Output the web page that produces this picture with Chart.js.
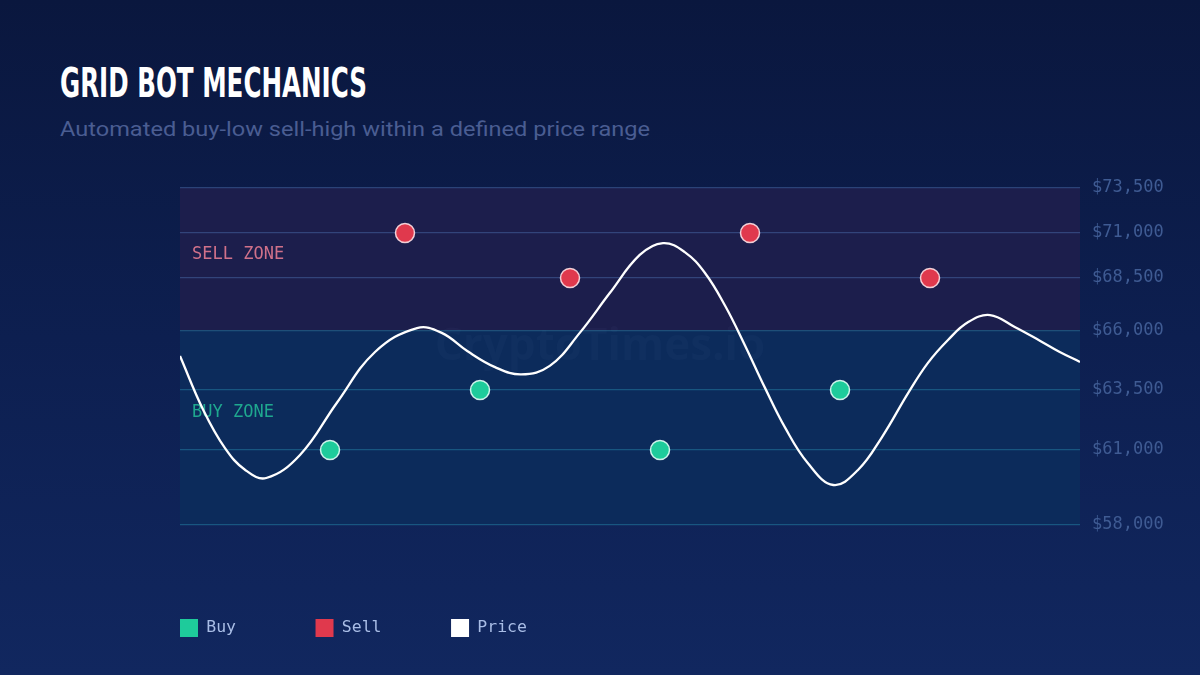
<!DOCTYPE html>
<html>
<head>
<meta charset="utf-8">
<script src="https://cdn.jsdelivr.net/npm/chart.js@4.4.1/dist/chart.umd.min.js"></script>
<style>
  html, body { margin: 0; padding: 0; }
  body {
    width: 1200px; height: 675px; overflow: hidden; position: relative;
    background: linear-gradient(180deg, #0a173e 0%, #0d1f50 50%, #11275f 100%);
  }
  #title {
    position: absolute; left: 60px; top: 63px; margin: 0;
    font: bold 40px "Liberation Sans Narrow", "DejaVu Sans Condensed", sans-serif;
    line-height: 1; color: #ffffff; white-space: nowrap; transform-origin: 0 0;
  }
  #subtitle {
    position: absolute; left: 60px; top: 119px; margin: 0;
    font: 20px Roboto, sans-serif; line-height: 1;
    color: #4a5d92; white-space: nowrap; transform-origin: 0 0;
  }
  #wrap { position: absolute; left: 0; top: 0; width: 1200px; height: 675px; }
</style>
</head>
<body>
<div id="title" data-w="307">GRID BOT MECHANICS</div>
<div id="subtitle" data-w="590">Automated buy-low sell-high within a defined price range</div>
<div id="wrap"><canvas id="gridChart"></canvas></div>
<script>
  // price axis ticks
  var tickValues = [58000, 61000, 63500, 66000, 68500, 71000, 73500];
  var zoneSplit = 66000;

  // price path (time step, price)
  var priceX = [0, 3.1, 6, 8.7, 11.5, 16, 20.9, 26, 31.6, 34.9, 38.3, 42, 45.5, 49.3, 53.3, 57.3, 61.3, 64.4,
                67.3, 70, 72.7, 75.3, 78, 80.7, 83.7, 87.1, 90.4, 93.6, 97.1, 99.7, 102.4, 105.1, 108, 111.3,
                114.7, 117.3, 120];
  var priceY = [64940, 62670, 61080, 60200, 59880, 60800, 62960, 65110, 66140, 65920, 65150, 64470, 64160,
                64520, 65920, 67790, 69780, 70440, 69940, 68780, 67180, 65410, 63590, 61920, 60480, 59600,
                60200, 61540, 63380, 64640, 65620, 66420, 66750, 66190, 65580, 65110, 64690];

  // grid orders
  var buyX = [20, 40, 64, 88];
  var buyY = [61000, 63500, 61000, 63500];
  var sellX = [30, 52, 76, 100];
  var sellY = [71000, 68500, 71000, 68500];

  // where each tick sits on the axis (0 = bottom, 1 = top), the axis is not evenly spaced
  var tickFractions = [0, 0.2226, 0.4006, 0.5757, 0.7329, 0.8665, 1];

  // squeeze the heading text to its width
  document.querySelectorAll('[data-w]').forEach(function (el) {
    var w = el.getBoundingClientRect().width;
    el.style.transform = 'scaleX(' + (el.dataset.w / w) + ')';
  });

  function toPoints(xs, ys) {
    return xs.map(function (x, i) { return { x: x, y: ys[i] }; });
  }

  class ZoneScale extends Chart.LinearScale {
    getPixelForValue(value) {
      var v = tickValues, f = tickFractions, i = 1;
      while (i < v.length - 1 && value > v[i]) i++;
      var t = (value - v[i - 1]) / (v[i] - v[i - 1]);
      return this.getPixelForDecimal(f[i - 1] + t * (f[i] - f[i - 1]));
    }
    getValueForPixel(pixel) {
      var d = this.getDecimalForPixel(pixel), v = tickValues, f = tickFractions, i = 1;
      while (i < f.length - 1 && d > f[i]) i++;
      var t = (d - f[i - 1]) / (f[i] - f[i - 1]);
      return v[i - 1] + t * (v[i] - v[i - 1]);
    }
  }
  ZoneScale.id = 'zone';
  ZoneScale.defaults = Chart.LinearScale.defaults;
  Chart.register(ZoneScale);

  var mono = '"DejaVu Sans Mono", "Liberation Mono", monospace';

  var zones = {
    id: 'zones',
    beforeDraw: function (chart) {
      var ctx = chart.ctx, a = chart.chartArea, y = chart.scales.y;
      var top = y.getPixelForValue(tickValues[tickValues.length - 1]);
      var mid = y.getPixelForValue(zoneSplit);
      var bot = y.getPixelForValue(tickValues[0]);
      ctx.save();
      ctx.fillStyle = '#1c1e4c';
      ctx.fillRect(a.left, top, a.right - a.left, mid - top);
      ctx.fillStyle = '#0c2b5b';
      ctx.fillRect(a.left, mid, a.right - a.left, bot - mid);

      // watermark
      ctx.font = 'bold 44px "Open Sans", sans-serif';
      ctx.fillStyle = 'rgba(150,170,220,0.035)';
      ctx.textAlign = 'center';
      ctx.textBaseline = 'middle';
      ctx.fillText('CryptoTimes.io', chart.width / 2, mid + 16);

      ctx.font = '17px ' + mono;
      ctx.textAlign = 'left';
      ctx.fillStyle = '#d0718a';
      ctx.fillText('SELL ZONE', a.left + 12, top + 67);
      ctx.fillStyle = '#1fa88f';
      ctx.fillText('BUY ZONE', a.left + 12, mid + 82);
      ctx.restore();
    }
  };

  var legendCols = 11;

  new Chart(document.getElementById('gridChart'), {
    type: 'line',
    data: {
      datasets: [
        {
          label: 'Buy',
          data: toPoints(buyX, buyY),
          showLine: false,
          backgroundColor: '#1ecb9b',
          borderColor: 'rgba(225,255,245,0.9)',
          legendColor: '#1ecb9b',
          pointRadius: 9.5,
          pointBorderWidth: 1.5,
          order: 1
        },
        {
          label: 'Sell',
          data: toPoints(sellX, sellY),
          showLine: false,
          backgroundColor: '#e0394d',
          borderColor: 'rgba(255,225,230,0.9)',
          legendColor: '#e0394d',
          pointRadius: 9.5,
          pointBorderWidth: 1.5,
          order: 1
        },
        {
          label: 'Price',
          data: toPoints(priceX, priceY),
          borderColor: '#ffffff',
          legendColor: '#ffffff',
          borderWidth: 2.3,
          pointRadius: 0,
          tension: 0.4,
          fill: false,
          order: 2
        }
      ]
    },
    options: {
      responsive: true,
      maintainAspectRatio: false,
      animation: false,
      layout: { padding: { left: 180, right: 0, top: 188, bottom: 28 } },
      plugins: {
        title: { display: false },
        tooltip: { enabled: false },
        legend: {
          position: 'bottom',
          align: 'start',
          labels: {
            boxWidth: 18,
            boxHeight: 18,
            padding: 0,
            color: '#a9bde6',
            font: { family: mono, size: 16.5 },
            generateLabels: function (chart) {
              return chart.data.datasets.map(function (ds, i) {
                return {
                  text: ds.label.padEnd(legendCols, ' '),
                  fillStyle: ds.legendColor,
                  strokeStyle: ds.legendColor,
                  lineWidth: 0,
                  hidden: false,
                  datasetIndex: i,
                  fontColor: '#a9bde6'
                };
              });
            }
          }
        }
      },
      scales: {
        x: {
          type: 'linear',
          min: 0,
          max: 120,
          ticks: { display: false },
          grid: { display: false },
          border: { display: false },
          afterFit: function (s) { s.height = 94; }
        },
        y: {
          type: 'zone',
          position: 'right',
          min: tickValues[0],
          max: tickValues[tickValues.length - 1],
          afterBuildTicks: function (s) {
            s.ticks = tickValues.map(function (v) { return { value: v }; });
          },
          afterFit: function (s) { s.width = 120; },
          border: { display: false },
          grid: {
            drawTicks: false,
            lineWidth: 1.2,
            color: function (c) {
              return c.tick && c.tick.value > zoneSplit ? 'rgba(70,100,160,0.55)' : 'rgba(35,130,165,0.5)';
            }
          },
          ticks: {
            padding: 12,
            color: '#3f5b93',
            font: { family: mono, size: 17 },
            callback: function (v) { return '$' + Number(v).toLocaleString('en-US'); }
          }
        }
      }
    },
    plugins: [zones]
  });
</script>
</body>
</html>
